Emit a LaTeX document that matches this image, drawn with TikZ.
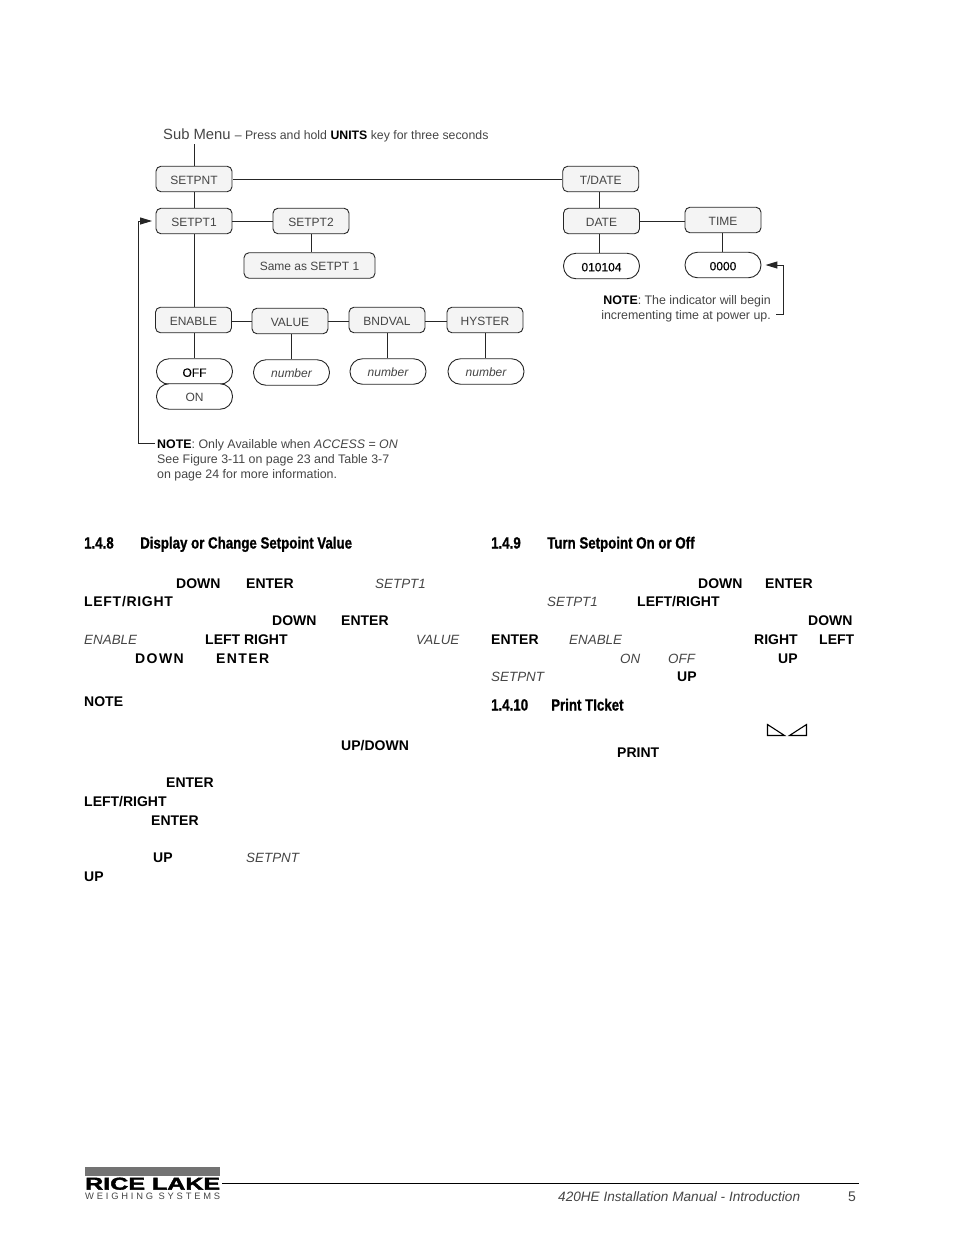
\documentclass[tikz,border=0pt]{standalone}
\usepackage{fontspec}
\usepackage{graphicx}
\setmainfont{Liberation Sans}
\newfontfamily\headfont[FakeStretch=0.82,FakeBold=1]{Liberation Sans Bold}
\newfontfamily\logofont[FakeBold=2]{Liberation Sans Bold}
\newfontfamily\medfont[FakeBold=0.4]{Liberation Sans}
\newfontfamily\widekey[LetterSpace=10]{Liberation Sans}
\newfontfamily\midkey[LetterSpace=5]{Liberation Sans}
\usetikzlibrary{arrows.meta}
\definecolor{inkgray}{gray}{0.27}
\definecolor{boxgray}{gray}{0.955}
\tikzset{
    menubox/.style={draw=black!85, fill=boxgray, line width=0.9pt, rounded corners=5pt,
        minimum width=76pt, minimum height=25.5pt, inner sep=0pt, text height=10.6pt, text depth=0pt,
        text=inkgray, font=\fontsize{12}{14}\selectfont},
    valuepill/.style={draw=black!85, fill=white, line width=0.9pt, rounded corners=12.5pt,
        minimum width=76pt, minimum height=25.5pt, inner sep=0pt, text height=10.6pt, text depth=0pt,
        text=inkgray, font=\fontsize{12}{14}\selectfont},
    link/.style={draw=black!85, line width=1pt},
    notetext/.style={inner sep=0pt, text=inkgray, font=\fontsize{12.4}{15}\selectfont},
    keylabel/.style={anchor=base west, inner sep=0pt, font=\fontsize{14}{16}\selectfont\bfseries},
    screenlabel/.style={anchor=base west, inner sep=0pt, text=inkgray, font=\fontsize{13.4}{16}\selectfont\itshape},
    headlabel/.style={anchor=base west, inner sep=0pt, font=\fontsize{16.2}{18}\headfont},
}
\begin{document}
\begin{tikzpicture}[x=1pt, y=-1pt]
    \useasboundingbox (0,0) rectangle (954,1235);

    % Title line
    \node[anchor=base west, inner sep=0pt, text=inkgray] (title) at (163,139)
        {\fontsize{14.8}{16}\selectfont Sub Menu \fontsize{12.3}{15}\selectfont -- Press and hold \textcolor{black}{\bfseries UNITS} key for three seconds};
    \coordinate (stemtop) at (194,144);

    % Menu boxes
    \node[menubox] (setpnt) at (194,179) {SETPNT};
    \node[menubox] (tdate) at (600.7,179) {T/DATE};
    \node[menubox] (setptone) at (194,221) {SETPT1};
    \node[menubox] (setpttwo) at (311,221) {SETPT2};
    \node[menubox, minimum width=131pt] (sameas) at (309.5,265.5) {Same as SETPT 1};
    \node[menubox] (date) at (601.5,221) {DATE};
    \node[menubox] (time) at (723,220) {TIME};
    \node[menubox] (enable) at (193.5,320) {ENABLE};
    \node[menubox] (value) at (290,321) {VALUE};
    \node[menubox] (bndval) at (387,320) {BNDVAL};
    \node[menubox] (hyster) at (485,320) {HYSTER};

    % Value pills
    \node[valuepill] (off) at (194.5,371.5) {\textcolor{black}{\medfont OFF}};
    \node[valuepill] (on) at (194.5,396.5) {ON};
    \node[valuepill] (numvalue) at (291.5,372.5) {\itshape number};
    \node[valuepill] (numbnd) at (388,371.5) {\itshape number};
    \node[valuepill] (numhyst) at (486,371.5) {\itshape number};
    \node[valuepill] (dateval) at (601.5,266) {\textcolor{black}{\medfont 010104}};
    \node[valuepill] (timeval) at (723,265) {\textcolor{black}{\medfont 0000}};

    % Connectors
    \draw[link] (stemtop) -- (setpnt.north);
    \draw[link] (setpnt.south) -- (setptone.north);
    \draw[link] ([xshift=1pt]setpnt.east) -- (tdate.west);
    \draw[link] (setptone.east) -- (setpttwo.west);
    \draw[link] (setpttwo.south) -- (setpttwo.south |- sameas.north);
    \draw[link] (setptone.south) -- (setptone.south |- enable.north);
    \draw[link] (enable.east |- value.west) -- (value.west);
    \draw[link] (value.east) -- (value.east -| bndval.west);
    \draw[link] (bndval.east |- value.east) -- (hyster.west |- value.east);
    \draw[link] (setptone.south |- enable.south) -- (setptone.south |- off.north);
    \draw[link] (numvalue.north |- value.south) -- (numvalue.north);
    \draw[link] ([xshift=-0.5pt]numbnd.north |- bndval.south) -- ([xshift=-0.5pt]numbnd.north);
    \draw[link] ([xshift=-0.5pt]numhyst.north |- hyster.south) -- ([xshift=-0.5pt]numhyst.north);
    \draw[link] ([xshift=-1.4pt]tdate.south) -- ([xshift=-1.4pt]tdate.south |- date.north);
    \draw[link] (date.east) -- (date.east -| time.west);
    \draw[link] ([xshift=-2pt]date.south) -- ([xshift=-2pt]date.south |- dateval.north);
    \draw[link] ([xshift=-1pt]time.south) -- ([xshift=-1pt]time.south |- timeval.north);

    % Notes with their arrows
    \node[notetext, align=left, anchor=north west] (accessnote) at (157,439)
        {\textcolor{black}{\bfseries NOTE}: Only Available when \textit{ACCESS} = \textit{ON}\\
         See Figure 3-11 on page 23 and Table 3-7\\
         on page 24 for more information.};
    \node[notetext, align=right, anchor=north east] (timenote) at (771,295)
        {\textcolor{black}{\bfseries NOTE}: The indicator will begin\\
         incrementing time at power up.};
    \coordinate (accessend) at (155,443.5);
    \coordinate (timeend) at (776,314);
    \draw[link, -{Stealth[length=12pt,width=7pt,inset=0pt]}, shorten >=3.5pt] (accessend) -- (138,443.5) |- (setptone.west);
    \draw[link, -{Stealth[length=12pt,width=7pt,inset=0pt]}, shorten >=4pt] (timeend) -- (783,314) |- (timeval.east);

    % Section headings
    \node[headlabel] (numeight) at (84,548.5) {1.4.8};
    \node[headlabel] (headeight) at (140,548.5) {Display or Change Setpoint Value};
    \node[headlabel] (numnine) at (491,548.5) {1.4.9};
    \node[headlabel] (headnine) at (547,548.5) {Turn Setpoint On or Off};
    \node[headlabel] (numten) at (491,710.5) {1.4.10};
    \node[headlabel] (headten) at (551,710.5) {Print TIcket};

    % Key names
    \foreach \px/\py/\txt [count=\i] in {
        176/588/DOWN, 246/588/ENTER, 84/606/{\midkey\bfseries LEFT/RIGHT}, 272/625/DOWN, 341/625/ENTER,
        205/644/{LEFT RIGHT}, 135/663/{\widekey\bfseries DOWN}, 216/663/{\widekey\bfseries ENTER}, 84/706/NOTE,
        341/750/{UP/DOWN}, 166/787/ENTER, 84/806/{LEFT/RIGHT}, 151/825/ENTER, 153/862/UP, 84/881/UP,
        698/588/DOWN, 765/588/ENTER, 637/606/{LEFT/RIGHT}, 808/625/DOWN, 491/644/ENTER,
        754/644/RIGHT, 819/644/LEFT, 778/663/UP, 677/681/UP, 617/757/PRINT}
        \node[keylabel] (key\i) at (\px,\py) {\txt};

    % Screen names
    \foreach \px/\py/\txt [count=\i] in {
        375/588/SETPT1, 84/644/ENABLE, 416/644/VALUE, 246/862/SETPNT,
        547/606/SETPT1, 569/644/ENABLE, 620/663/ON, 668/663/OFF, 491/681/SETPNT}
        \node[screenlabel] (screen\i) at (\px,\py) {\txt};

    % Small triangles
    \draw[line width=1.1pt] (767.5,724.5) -- (767.5,735.5) -- (784.5,735.5) -- cycle;
    \draw[line width=1.1pt] (806.5,724.5) -- (806.5,735.5) -- (789.5,735.5) -- cycle;

    % Footer
    \fill[black!55] (85,1167) rectangle (219.5,1176);
    \node[anchor=south west, inner sep=0pt] (logo) at (85,1190)
        {\resizebox{135pt}{12pt}{\logofont RICE LAKE}};
    \node[anchor=south west, inner sep=0pt, text=inkgray] (logosub) at (85,1199.5)
        {\resizebox{135pt}{6.5pt}{\addfontfeatures{LetterSpace=30}WEIGHING SYSTEMS}};
    \coordinate (ruleend) at (859,1183.6);
    \draw[line width=1pt] (222,1183.6) -- (ruleend);
    \node[anchor=base west, inner sep=0pt, text=inkgray, font=\fontsize{13.6}{16}\selectfont\itshape] (footer) at (558,1201) {420HE Installation Manual - Introduction};
    \node[anchor=base west, inner sep=0pt, text=inkgray, font=\fontsize{14}{16}\selectfont] (pagenum) at (848,1201) {5};
\end{tikzpicture}
\end{document}
